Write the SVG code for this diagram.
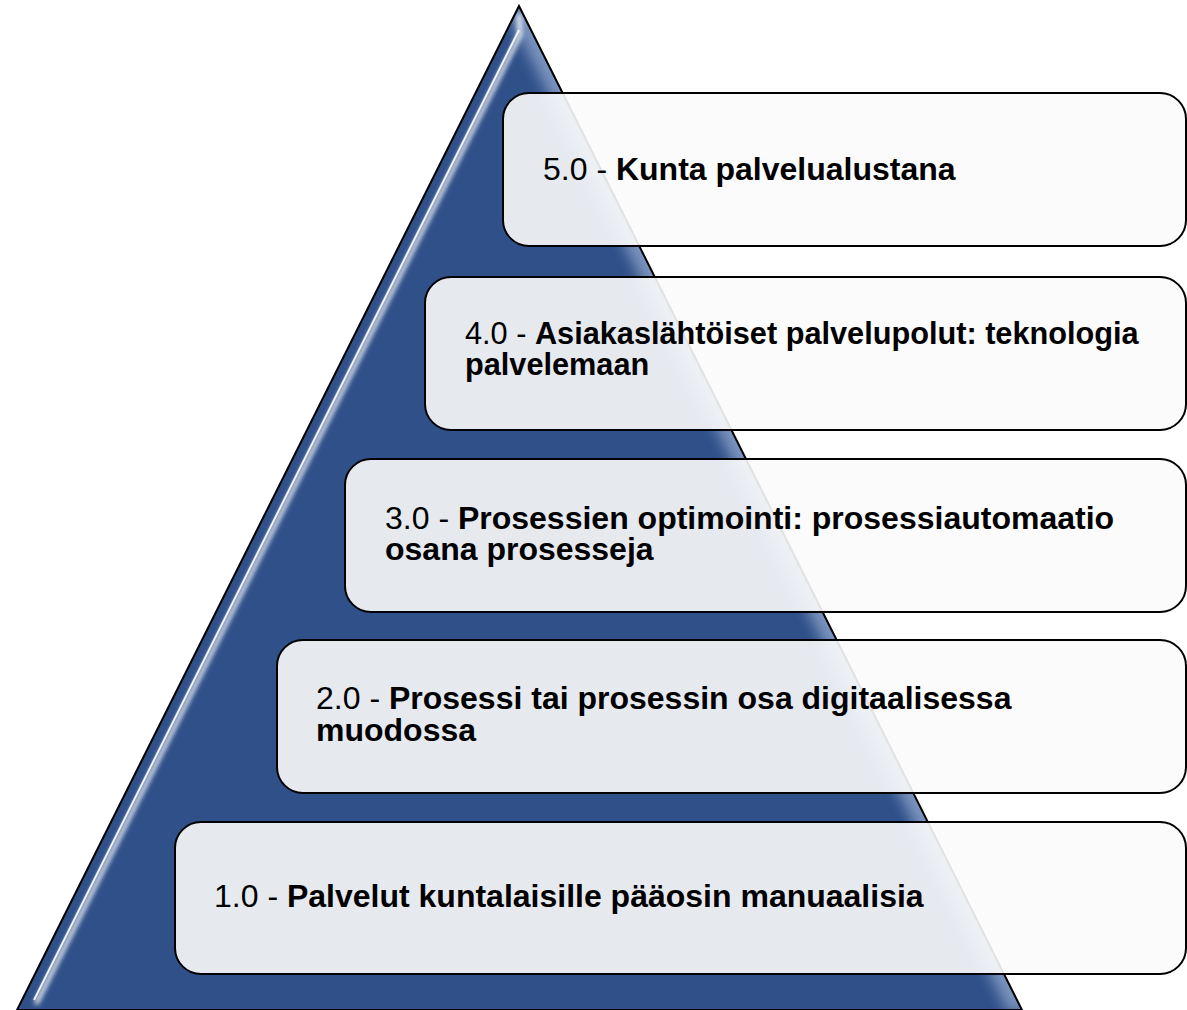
<svg xmlns="http://www.w3.org/2000/svg" width="1187" height="1010" viewBox="0 0 1187 1010">
  <style>
    .box { fill: #FBFBFB; fill-opacity: 0.9; stroke: #000000; stroke-width: 2; }
    .lbl { font-family: "Liberation Sans", Arial, sans-serif; font-size: 32px; fill: #000000; }
    .b { font-weight: bold; }
  </style>
  <defs>
    <filter id="blur3" x="-10%" y="-10%" width="120%" height="120%">
      <feGaussianBlur stdDeviation="2.5"/>
    </filter>
    <filter id="blur8" x="-20%" y="-10%" width="140%" height="120%">
      <feGaussianBlur stdDeviation="7"/>
    </filter>
    <clipPath id="pyrClip">
      <path d="M519,6 L1022,1010 L17,1010 Z"/>
    </clipPath>
  </defs>
  <rect width="1187" height="1010" fill="#FFFFFF"/>
  <g id="pyramid">
    <path d="M519,6 L1022,1010 L17,1010 Z" fill="#2F5089"/>
    <g clip-path="url(#pyrClip)">
      <path d="M1022,1010 L519,6" stroke="#8FA6CC" stroke-width="26" fill="none" filter="url(#blur8)" opacity="0.8"/>
      <path d="M519,14 L520,35 L36,1004" stroke="#FFFFFF" stroke-width="4" fill="none" filter="url(#blur3)"/>
      <path d="M519,30 L34,1000" stroke="#FFFFFF" stroke-width="2" fill="none" opacity="0.9"/>
      <path d="M17,1004 L1022,1004" stroke="#5873A6" stroke-width="10" fill="none" filter="url(#blur3)" opacity="0.7"/>
    </g>
    <path d="M519,6 L1022,1010 L17,1010 Z" fill="none" stroke="#000000" stroke-width="2"/>
  </g>
  <g id="connectors"/>
  <g id="level5">
    <rect class="box" x="503" y="93" width="683" height="153" rx="26"/>
    <text class="lbl" x="543" y="180">5.0 - <tspan class="b">Kunta palvelualustana</tspan></text>
  </g>
  <g id="level4">
    <rect class="box" x="425" y="277" width="761" height="153" rx="26"/>
    <text class="lbl" x="465" y="344" style="font-size:30.7px">4.0 - <tspan class="b">Asiakaslähtöiset palvelupolut: teknologia</tspan></text>
    <text class="lbl b" x="465" y="375" style="font-size:30.7px">palvelemaan</text>
  </g>
  <g id="level3">
    <rect class="box" x="345" y="459" width="841" height="153" rx="26"/>
    <text class="lbl" x="385" y="529">3.0 - <tspan class="b">Prosessien optimointi: prosessiautomaatio</tspan></text>
    <text class="lbl b" x="385" y="560">osana prosesseja</text>
  </g>
  <g id="level2">
    <rect class="box" x="277" y="640" width="909" height="153" rx="26"/>
    <text class="lbl" x="316" y="709">2.0 - <tspan class="b">Prosessi tai prosessin osa digitaalisessa</tspan></text>
    <text class="lbl b" x="316" y="741">muodossa</text>
  </g>
  <g id="level1">
    <rect class="box" x="175" y="822" width="1011" height="152" rx="26"/>
    <text class="lbl" x="214" y="907">1.0 - <tspan class="b">Palvelut kuntalaisille pääosin manuaalisia</tspan></text>
  </g>
</svg>
